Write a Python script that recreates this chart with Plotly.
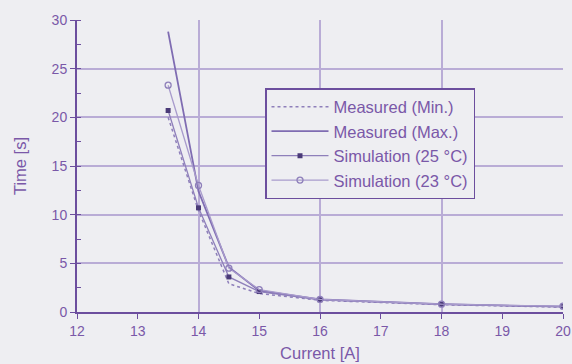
import plotly.graph_objects as go

current = [13.5, 14, 14.5, 15, 16, 18, 20]
meas_min = [20.0, 10.4, 2.9, 1.9, 1.2, 0.75, 0.5]
meas_max = [28.8, 12.4, 4.6, 2.2, 1.3, 0.8, 0.55]
sim_25 = [20.7, 10.7, 3.6, 2.1, 1.25, 0.78, 0.55]
sim_23 = [23.3, 13.0, 4.5, 2.3, 1.3, 0.8, 0.6]
x_ticks = [12, 13, 14, 15, 16, 17, 18, 19, 20]
y_ticks = [0, 5, 10, 15, 20, 25, 30]

TXT = "#7a58a8"
AX = "#6c4e9e"
LINE = "#8e7fba"
GRID = "#b9acd6"
BG = "#eeeef2"

fig = go.Figure()
fig.add_trace(go.Scatter(x=current, y=meas_min, name="Measured (Min.)", mode="lines",
                         line=dict(color=LINE, width=1.5, dash="dot")))
fig.add_trace(go.Scatter(x=current, y=meas_max, name="Measured (Max.)", mode="lines",
                         line=dict(color="#7f6cb2", width=1.8)))
fig.add_trace(go.Scatter(x=current, y=sim_25, name="Simulation (25 °C)", mode="lines+markers",
                         line=dict(color=LINE, width=1.3),
                         marker=dict(symbol="square", size=5, color="#4a3a78")))
fig.add_trace(go.Scatter(x=current, y=sim_23, name="Simulation (23 °C)", mode="lines+markers",
                         line=dict(color="#a89bcc", width=1.3),
                         marker=dict(symbol="circle-open", size=6, color="#8e7fba", line=dict(width=1.3))))
# invisible trace on second x axis to carry the grid every 2 A
fig.add_trace(go.Scatter(x=[x_ticks[0], x_ticks[-1]], y=[y_ticks[0], y_ticks[0]], xaxis="x2",
                         mode="lines", line=dict(width=0), showlegend=False, hoverinfo="skip"))

fig.update_layout(
    width=572, height=364,
    margin=dict(l=77, r=9, t=20, b=52, autoexpand=False),
    paper_bgcolor=BG, plot_bgcolor=BG,
    font=dict(family="Liberation Sans, Arial, sans-serif", color=TXT, size=14),
    xaxis=dict(range=[x_ticks[0], x_ticks[-1]], tickvals=x_ticks, showgrid=False,
               showline=True, linecolor=AX, linewidth=2, ticks="outside", ticklen=5,
               tickcolor=AX, zeroline=False, automargin=False,
               title=dict(text="Current [A]", font=dict(size=16.5, color=TXT), standoff=10)),
    xaxis2=dict(range=[x_ticks[0], x_ticks[-1]], dtick=2, tick0=12, overlaying="x",
                showgrid=True, gridcolor=GRID, gridwidth=1.5, showticklabels=False,
                ticks="", zeroline=False, automargin=False),
    yaxis=dict(range=[y_ticks[0], y_ticks[-1]], tickvals=y_ticks, showgrid=True,
               gridcolor=GRID, gridwidth=1.5, showline=True, linecolor=AX, linewidth=2,
               ticks="outside", ticklen=5, tickcolor=AX, zeroline=False, automargin=False,
               minor=dict(dtick=2.5, ticks="inside", ticklen=4, tickcolor=AX),
               title=dict(text="Time [s]", font=dict(size=16.5, color=TXT), standoff=21)),
    legend=dict(x=(265 - 77) / 486, y=(312 - 88) / 292, xanchor="left", yanchor="top",
                bgcolor=BG, bordercolor=AX, borderwidth=1.5,
                font=dict(size=16.5, color=TXT), itemwidth=57, tracegroupgap=0),
    showlegend=True,
)
fig.write_html("out.html", config={"displayModeBar": False},
               post_script="document.body.style.margin='0';document.body.style.background='%s';" % BG)
